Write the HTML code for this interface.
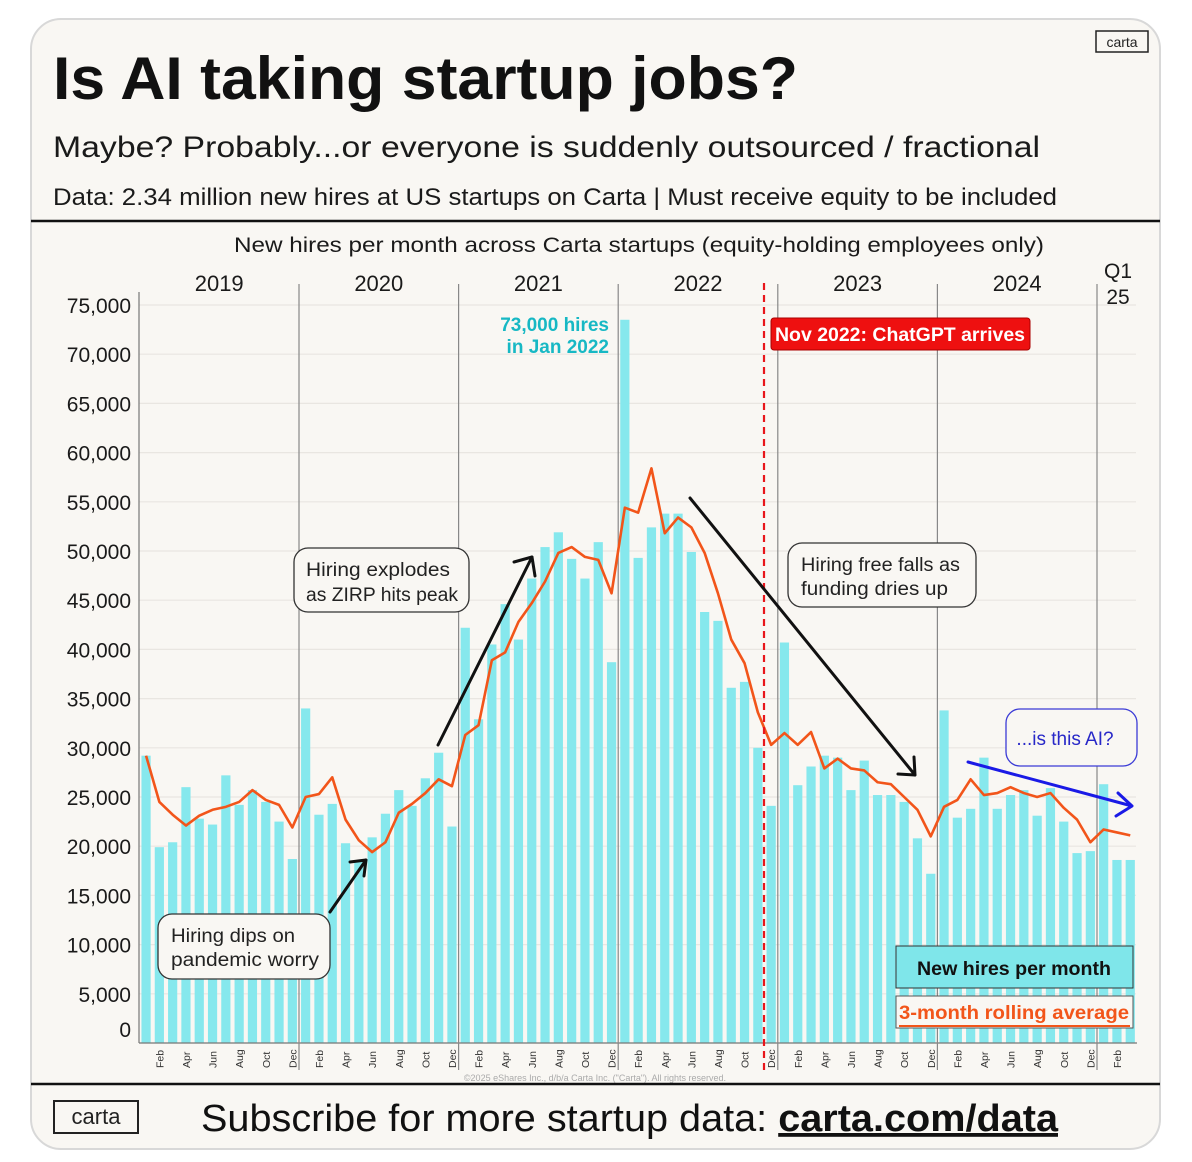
<!DOCTYPE html>
<html><head><meta charset="utf-8"><style>
html,body{margin:0;padding:0;background:#fff;}
svg{display:block;font-family:"Liberation Sans",sans-serif;}
</style></head><body>
<svg id="chart" width="1192" height="1162" viewBox="0 0 1192 1162" xmlns="http://www.w3.org/2000/svg">
<rect x="31" y="19" width="1129" height="1130" rx="30" fill="#f9f7f3" stroke="#d8d8d8" stroke-width="2"/>
<text x="53" y="99" font-size="60" font-weight="bold" fill="#111" textLength="745" lengthAdjust="spacingAndGlyphs">Is AI taking startup jobs?</text>
<g><rect x="1096" y="31" width="52" height="21" fill="none" stroke="#222" stroke-width="1.5"/><text x="1122" y="47" font-size="14" text-anchor="middle" fill="#222">carta</text></g>
<text x="53" y="157" font-size="30" fill="#1a1a1a" textLength="987" lengthAdjust="spacingAndGlyphs">Maybe? Probably...or everyone is suddenly outsourced / fractional</text>
<text x="53" y="205" font-size="24" fill="#1a1a1a" textLength="1004" lengthAdjust="spacingAndGlyphs">Data: 2.34 million new hires at US startups on Carta  |  Must receive equity to be included</text>
<line x1="31" y1="221" x2="1160" y2="221" stroke="#111" stroke-width="2.5"/>
<text x="639" y="252" font-size="21" fill="#1a1a1a" text-anchor="middle" textLength="810" lengthAdjust="spacingAndGlyphs">New hires per month across Carta startups (equity-holding employees only)</text>
<g id="grid"></g><g id="bars"></g><g id="dividers"></g><g id="line"></g><g id="ticks"></g>
<line x1="764" y1="283" x2="764" y2="1070" stroke="#e8161b" stroke-width="2.2" stroke-dasharray="7,5"/>
<g><rect x="771" y="318" width="259" height="32" rx="3" fill="#ee1010" stroke="#a00" stroke-width="1"/><text x="900" y="341" font-size="19" font-weight="bold" fill="#fff" text-anchor="middle" textLength="250" lengthAdjust="spacingAndGlyphs">Nov 2022: ChatGPT arrives</text></g>
<g fill="#17b8c4" font-weight="bold" font-size="19" text-anchor="end"><text x="609" y="331">73,000 hires</text><text x="609" y="353">in Jan 2022</text></g>
<g><rect x="294" y="548" width="175" height="64" rx="14" fill="#f9f7f3" stroke="#333" stroke-width="1.3"/><text x="306" y="576" font-size="19" fill="#222" textLength="144" lengthAdjust="spacingAndGlyphs">Hiring explodes</text><text x="306" y="601" font-size="19" fill="#222" textLength="152" lengthAdjust="spacingAndGlyphs">as ZIRP hits peak</text></g>
<g><rect x="158" y="914" width="172" height="65" rx="14" fill="#f9f7f3" stroke="#333" stroke-width="1.3"/><text x="171" y="942" font-size="19" fill="#222" textLength="124" lengthAdjust="spacingAndGlyphs">Hiring dips on</text><text x="171" y="966" font-size="19" fill="#222" textLength="148" lengthAdjust="spacingAndGlyphs">pandemic worry</text></g>
<g><rect x="788" y="543" width="188" height="64" rx="14" fill="#f9f7f3" stroke="#333" stroke-width="1.3"/><text x="801" y="571" font-size="19" fill="#222" textLength="159" lengthAdjust="spacingAndGlyphs">Hiring free falls as</text><text x="801" y="595" font-size="19" fill="#222" textLength="147" lengthAdjust="spacingAndGlyphs">funding dries up</text></g>
<g><rect x="1006" y="709" width="131" height="57" rx="14" fill="#f9f7f3" stroke="#3b3bd6" stroke-width="1.3"/><text x="1065" y="745" font-size="19" fill="#2828c8" text-anchor="middle">...is this AI?</text></g>
<g fill="none" stroke-linecap="round" stroke-linejoin="round">
<path d="M330,912 L366,860 M350,862 L366,860 L364,876" stroke="#111" stroke-width="3"/>
<path d="M438,745 L532,557 M514,562 L532,557 L535,576" stroke="#111" stroke-width="3"/>
<path d="M690,498 L915,775 M898,774 L915,775 L914,757" stroke="#111" stroke-width="3"/>
<path d="M968,762 L1132,806 M1118,793 L1132,806 L1116,816" stroke="#1a1ae6" stroke-width="3"/>
</g>
<g><rect x="896" y="946" width="237" height="42" fill="#7fe6ea" stroke="#333" stroke-width="1"/><text x="1014" y="975" font-size="19" font-weight="bold" fill="#111" text-anchor="middle" textLength="194" lengthAdjust="spacingAndGlyphs">New hires per month</text>
<rect x="896" y="996" width="237" height="32" fill="#f9f7f3" stroke="#555" stroke-width="1"/><text x="1014" y="1019" font-size="19" font-weight="bold" fill="#f2551a" text-anchor="middle" textLength="230" lengthAdjust="spacingAndGlyphs">3-month rolling average</text><line x1="899" y1="1026" x2="1130" y2="1026" stroke="#f2551a" stroke-width="2"/></g>
<text x="595" y="1081" font-size="9" fill="#aaa" text-anchor="middle">©2025 eShares Inc., d/b/a Carta Inc. ("Carta"). All rights reserved.</text>
<line x1="31" y1="1084" x2="1160" y2="1084" stroke="#111" stroke-width="2.5"/>
<g><rect x="54" y="1101" width="84" height="32" fill="none" stroke="#222" stroke-width="2"/><text x="96" y="1124" font-size="22" text-anchor="middle" fill="#222">carta</text></g>
<text x="201" y="1131" font-size="38" fill="#111" textLength="857" lengthAdjust="spacingAndGlyphs">Subscribe for more startup data: <tspan font-weight="bold" text-decoration="underline">carta.com/data</tspan></text>
</svg>
<script>
const months = ["Jan","Feb","Mar","Apr","May","Jun","Jul","Aug","Sep","Oct","Nov","Dec"];
const years = ["2019","2020","2021","2022","2023","2024","Q1 25"];
const yTicks = [0,5000,10000,15000,20000,25000,30000,35000,40000,45000,50000,55000,60000,65000,70000,75000];
const newHires = [
29200,19900,20400,26000,22800,22200,27200,24200,25700,24500,22500,18700,
34000,23200,24300,20300,18500,20900,23300,25700,24100,26900,29500,22000,
42200,32900,40500,44600,41000,47200,50400,51900,49200,47200,50900,38700,
73500,49300,52400,53800,53800,49900,43800,42900,36100,36700,30000,24100,
40700,26200,28100,29200,29000,25700,28700,25200,25200,24500,20800,17200,
33800,22900,23800,29000,23800,25200,25700,23100,25900,22500,19300,19500,
26300,18600,18600];
const rollingAvg = [
29200,24500,23200,22100,23100,23700,24000,24500,25700,24700,24200,21900,
25000,25300,27000,22700,20600,19400,20400,23400,24300,25400,26800,26100,
31300,32300,38900,39700,42800,44700,46900,49800,50400,49400,49100,45700,
54400,53900,58400,51800,53400,52400,49800,45700,41000,38600,33600,30300,
31500,30300,31600,27900,28900,27900,27700,26500,26300,25000,23700,21000,
24000,24700,26800,25200,25400,26000,25400,25000,25400,23900,22700,20400,
21700,21400,21100];
const NS="http://www.w3.org/2000/svg";
const x0=139.4, pitch=13.3, yBase=1043, yScale=0.00984;
function xC(i){return x0+pitch*i+pitch/2;}
function yV(v){return yBase-v*yScale;}
function mk(tag,attrs,parent){const e=document.createElementNS(NS,tag);for(const k in attrs)e.setAttribute(k,attrs[k]);parent.appendChild(e);return e;}
const grid=document.getElementById('grid');
yTicks.forEach(v=>{
  const l=mk('line',{x1:139,x2:1136,y1:yV(v),y2:yV(v),stroke:'#e9e6e1','stroke-width':1.2},grid);
  
  
  const t=mk('text',{x:131,y:v===0?1037:yV(v)+8,'font-size':21,fill:'#1a1a1a','text-anchor':'end'},grid);
  
  
  t.textContent=v.toLocaleString('en-US');
});
const bars=document.getElementById('bars');
newHires.forEach((v,i)=>{
  const r=mk('rect',{x:xC(i)-4.6,y:yV(v),width:9.2,height:yBase-yV(v),fill:'#86e8ed'},bars);
  
  
});
const dv=document.getElementById('dividers');
const la=mk('line',{x1:139,x2:139,y1:292,y2:1043,stroke:'#777','stroke-width':1.2},dv);


const lb=mk('line',{x1:139,x2:1137,y1:1043,y2:1043,stroke:'#777','stroke-width':1.2},dv);


years.forEach((y,k)=>{
  const xs=x0+k*12*pitch;
  if(k>0){const l=mk('line',{x1:xs,x2:xs,y1:284,y2:1070,stroke:'#888','stroke-width':1.2},dv);
  
  }
  if(k<6){const t=mk('text',{x:xs+6*pitch,y:291,'font-size':22,fill:'#1a1a1a','text-anchor':'middle'},dv);
  
  
  t.textContent=y;}
  else{const t=mk('text',{x:1118,y:278,'font-size':21,fill:'#1a1a1a','text-anchor':'middle'},dv);
  
  
  t.textContent='Q1';
  const t2=mk('text',{x:1118,y:304,'font-size':21,fill:'#1a1a1a','text-anchor':'middle'},dv);
  
  
  t2.textContent='25';}
});
const p=mk('polyline',{points:rollingAvg.map((v,i)=>xC(i)+','+yV(v)).join(' '),fill:'none',stroke:'#f2551a','stroke-width':2.6,'stroke-linejoin':'round'},document.getElementById('line'));


const tk=document.getElementById('ticks');
newHires.forEach((v,i)=>{
  if(i%2===1){const x=xC(i)+4;
    const t=mk('text',{x:x,y:1068,'font-size':10.5,fill:'#333',transform:'rotate(-90 '+x+' 1068)'},tk);
    
    
    t.textContent=months[i%12];}
});
</script>
</body></html>
